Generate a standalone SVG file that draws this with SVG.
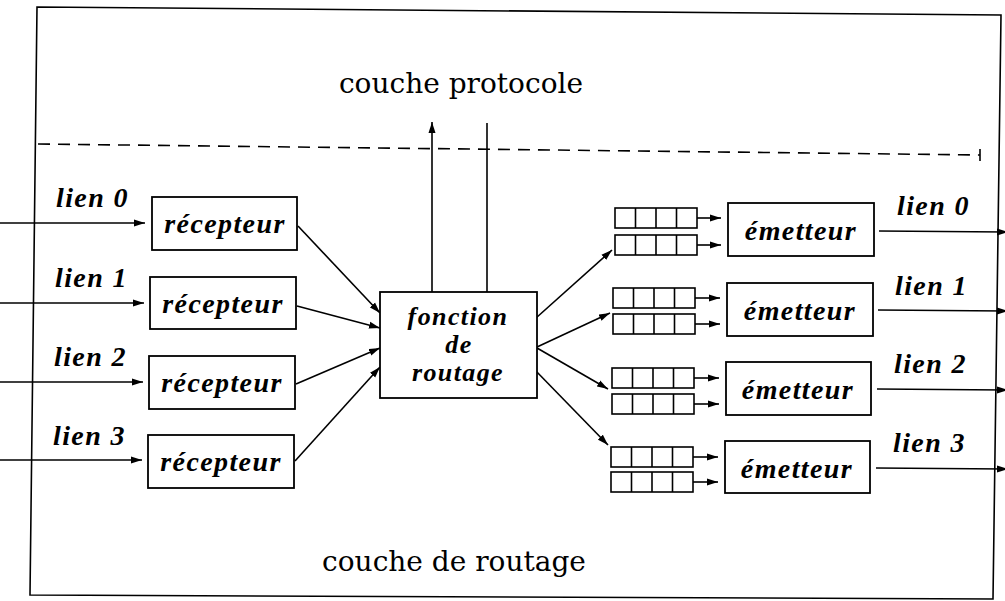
<svg xmlns="http://www.w3.org/2000/svg" width="1005" height="601" viewBox="0 0 1005 601">
  <style>
    .box { fill: #fff; stroke: #000; stroke-width: 1.8; }
    .cell { fill: #fff; stroke: #000; stroke-width: 1.6; }
    .line { fill: none; stroke: #000; stroke-width: 1.6; }
    .arr { fill: none; stroke: #000; stroke-width: 1.6; marker-end: url(#head); }
    .lbl { font-family: "Liberation Serif", "DejaVu Serif", serif; font-style: italic; font-weight: bold; font-size: 28px; letter-spacing: 1.4px; fill: #000; }
    .fn { font-size: 26px; }
    .layer { font-family: "DejaVu Serif", "Liberation Serif", serif; font-size: 28px; fill: #000; }
    .mid { text-anchor: middle; }
  </style>
  <defs>
    <marker id="head" markerUnits="userSpaceOnUse" markerWidth="12" markerHeight="8" refX="11" refY="4" orient="auto">
      <path d="M0,0.5 L11,4 L0,7.5 z" fill="#000"/>
    </marker>
    <!-- a four-slot buffer queue -->
    <g id="queue">
      <rect class="cell" x="0" y="0" width="82" height="20"/>
      <line class="line" x1="20.5" y1="0" x2="20.5" y2="20"/>
      <line class="line" x1="41" y1="0" x2="41" y2="20"/>
      <line class="line" x1="61.5" y1="0" x2="61.5" y2="20"/>
    </g>
  </defs>

  <rect width="1005" height="601" fill="#fff"/>

  <!-- outer frame -->
  <path class="line" d="M37,7 L1001,15 L993,599 L30,595 Z" stroke-width="2"/>

  <!-- layer boundary -->
  <path class="line" d="M38,144 L980,155" stroke-dasharray="12 8"/>
  <line class="line" x1="980" y1="149" x2="980" y2="161"/>

  <text class="layer mid" x="461" y="93">couche protocole</text>
  <text class="layer mid" x="454" y="571">couche de routage</text>

  <g id="connectors">
    <!-- incoming links -->
    <line class="arr" x1="0" y1="223" x2="145" y2="223"/>
    <line class="arr" x1="0" y1="303" x2="144" y2="303"/>
    <line class="arr" x1="0" y1="382" x2="143" y2="382"/>
    <line class="arr" x1="0" y1="460" x2="142" y2="460"/>
    <!-- receivers to routing function -->
    <line class="arr" x1="298" y1="226" x2="380" y2="313"/>
    <line class="arr" x1="297" y1="306" x2="380" y2="328"/>
    <line class="arr" x1="296" y1="384" x2="380" y2="348"/>
    <line class="arr" x1="295" y1="461" x2="380" y2="367"/>
    <!-- protocol layer exchange -->
    <line class="arr" x1="432" y1="300" x2="432" y2="122"/>
    <line class="arr" x1="487" y1="123" x2="487" y2="304"/>
    <!-- routing function to queues -->
    <line class="arr" x1="536" y1="318" x2="612" y2="250"/>
    <line class="arr" x1="537" y1="347" x2="610" y2="313"/>
    <line class="arr" x1="537" y1="348" x2="608" y2="389"/>
    <line class="arr" x1="534" y1="369" x2="608" y2="445"/>
    <!-- queues to transmitters -->
    <line class="arr" x1="697" y1="218" x2="721" y2="218"/>
    <line class="arr" x1="697" y1="245" x2="721" y2="245"/>
    <line class="arr" x1="695" y1="298" x2="720" y2="298"/>
    <line class="arr" x1="695" y1="324" x2="720" y2="324"/>
    <line class="arr" x1="694" y1="378" x2="719" y2="378"/>
    <line class="arr" x1="694" y1="404" x2="719" y2="404"/>
    <line class="arr" x1="693" y1="457" x2="718" y2="457"/>
    <line class="arr" x1="693" y1="482" x2="718" y2="482"/>
    <!-- outgoing links -->
    <line class="arr" x1="879" y1="231" x2="1008" y2="232"/>
    <line class="arr" x1="878" y1="310" x2="1008" y2="311"/>
    <line class="arr" x1="877" y1="389" x2="1008" y2="390"/>
    <line class="arr" x1="876" y1="468" x2="1008" y2="469"/>
  </g>

  <!-- link labels -->
  <text class="lbl" x="56" y="207">lien 0</text>
  <text class="lbl" x="55" y="287">lien 1</text>
  <text class="lbl" x="54" y="366">lien 2</text>
  <text class="lbl" x="53" y="445">lien 3</text>
  <text class="lbl" x="897" y="215">lien 0</text>
  <text class="lbl" x="895" y="295">lien 1</text>
  <text class="lbl" x="894" y="373">lien 2</text>
  <text class="lbl" x="893" y="452">lien 3</text>

  <g id="recepteur0">
    <rect class="box" x="152" y="197" width="145" height="53"/>
    <text class="lbl mid" x="225" y="233">récepteur</text>
  </g>
  <g id="recepteur1">
    <rect class="box" x="150" y="277" width="146" height="52"/>
    <text class="lbl mid" x="223" y="313">récepteur</text>
  </g>
  <g id="recepteur2">
    <rect class="box" x="149" y="356" width="146" height="53"/>
    <text class="lbl mid" x="222" y="392">récepteur</text>
  </g>
  <g id="recepteur3">
    <rect class="box" x="148" y="435" width="146" height="53"/>
    <text class="lbl mid" x="221" y="471">récepteur</text>
  </g>

  <g id="fonction-de-routage">
    <rect class="box" x="380" y="292" width="157" height="106"/>
    <text class="lbl fn mid" x="458" y="325">fonction</text>
    <text class="lbl fn mid" x="459" y="353">de</text>
    <text class="lbl fn mid" x="458" y="381">routage</text>
  </g>

  <g id="files0">
    <use href="#queue" x="615" y="208"/>
    <use href="#queue" x="615" y="235"/>
  </g>
  <g id="files1">
    <use href="#queue" x="613" y="288"/>
    <use href="#queue" x="613" y="314"/>
  </g>
  <g id="files2">
    <use href="#queue" x="612" y="368"/>
    <use href="#queue" x="612" y="394"/>
  </g>
  <g id="files3">
    <use href="#queue" x="611" y="447"/>
    <use href="#queue" x="611" y="472"/>
  </g>

  <g id="emetteur0">
    <rect class="box" x="728" y="203" width="146" height="53"/>
    <text class="lbl mid" x="801" y="240">émetteur</text>
  </g>
  <g id="emetteur1">
    <rect class="box" x="727" y="283" width="146" height="53"/>
    <text class="lbl mid" x="800" y="320">émetteur</text>
  </g>
  <g id="emetteur2">
    <rect class="box" x="726" y="362" width="145" height="53"/>
    <text class="lbl mid" x="798" y="399">émetteur</text>
  </g>
  <g id="emetteur3">
    <rect class="box" x="725" y="441" width="145" height="52"/>
    <text class="lbl mid" x="797" y="478">émetteur</text>
  </g>
</svg>
